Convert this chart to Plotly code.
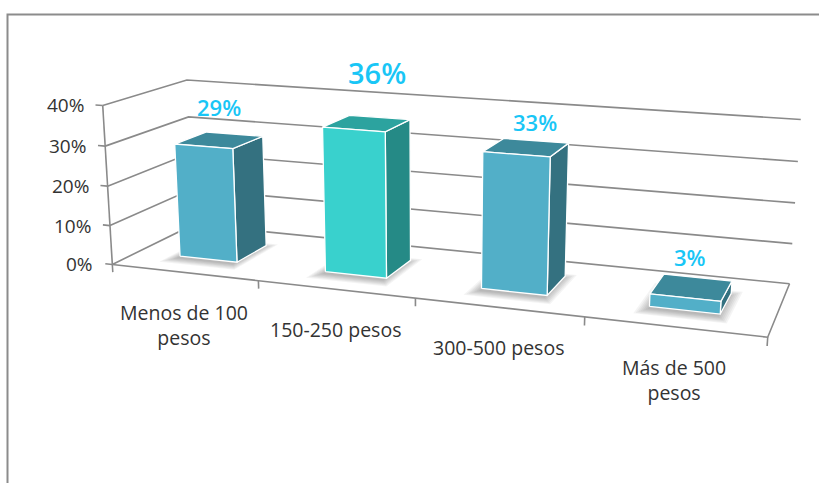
import numpy as np
import plotly.graph_objects as go

# ---- data -------------------------------------------------------------
categories = ["Menos de 100<br>pesos", "150-250 pesos", "300-500 pesos", "Más de 500<br>pesos"]
values = [29, 36, 33, 3]
value_labels = ["29%", "36%", "33%", "3%"]
tick_values = [0, 10, 20, 30, 40]
tick_labels = ["0%", "10%", "20%", "30%", "40%"]

# ---- styling ----------------------------------------------------------
front_colors = ["#52AFC8", "#39D1CD", "#52AFC8", "#52AFC8"]
side_colors = ["#347180", "#258A86", "#347180", "#347180"]
top_colors = ["#3D899B", "#2CA39F", "#3D899B", "#3D899B"]
label_sizes = [22, 29, 22, 22]
label_offsets = [(0, -33), (10, -51), (9, -25), (-2, -30)]
grid_color = "#8a8a8a"
text_color = "#333333"
label_color = "#19C6F6"
font_family = "Open Sans"

BAR_WIDTH = 0.4          # fraction of a category slot
BAR_DEPTH = (0.3, 0.7)   # depth span of the bars inside the floor
ZMAX = 40

# Perspective camera: world (category, depth, value/10) -> screen pixels.
# Anchor correspondences for the wall/floor corners of the 3-D frame.
anchors = [
    ((0, 0, 4), (102, 105)), ((0, 0, 3), (106, 146)), ((0, 0, 2), (108, 186)),
    ((0, 0, 1), (110, 224)), ((0, 0, 0), (112, 263)),
    ((0, 1, 4), (187, 81)), ((0, 1, 3), (188, 118)),
    ((4, 1, 4), (801, 119)), ((4, 1, 3), (798, 161)), ((4, 1, 2), (795, 203)),
    ((4, 1, 1), (792, 243)), ((4, 1, 0), (790, 283)),
    ((4, 0, 0), (766, 337)), ((1, 0, 0), (258, 281)), ((2, 0, 0), (416, 300)),
    ((3, 0, 0), (586, 319)),
]


def fit_camera(pairs):
    W = np.array([p[0] for p in pairs], float)
    S = np.array([p[1] for p in pairs], float)
    wm = W.mean(0)
    ws = np.sqrt(((W - wm) ** 2).sum(1).mean() / 3)
    sm = S.mean(0)
    ss = np.sqrt(((S - sm) ** 2).sum(1).mean() / 2)
    Tw = np.diag([1 / ws] * 3 + [1.0])
    Tw[:3, 3] = -wm / ws
    Ts = np.diag([1 / ss] * 2 + [1.0])
    Ts[:2, 2] = -sm / ss
    Wn = (Tw @ np.c_[W, np.ones(len(W))].T).T
    Sn = (Ts @ np.c_[S, np.ones(len(S))].T).T
    rows = []
    for (x, y, z, _), (u, v, _) in zip(Wn, Sn):
        rows.append([x, y, z, 1, 0, 0, 0, 0, -u * x, -u * y, -u * z, -u])
        rows.append([0, 0, 0, 0, x, y, z, 1, -v * x, -v * y, -v * z, -v])
    _, _, vt = np.linalg.svd(np.array(rows))
    Pn = vt[-1].reshape(3, 4)
    return np.linalg.inv(Ts) @ Pn @ Tw


P = fit_camera(anchors)


def project(x, y, value):
    h = P @ np.array([x, y, value / 10.0, 1.0])
    return h[0] / h[2], h[1] / h[2]


def poly(points):
    xs, ys = zip(*[project(*p) for p in points])
    return list(xs) + [xs[0]], list(ys) + [ys[0]]


fig = go.Figure()


def add_line(points, color=grid_color, width=1.6):
    xs, ys = zip(*[project(*p) for p in points])
    fig.add_trace(go.Scatter(x=xs, y=ys, mode="lines",
                             line=dict(color=color, width=width),
                             hoverinfo="skip"))


def add_face(points, fill, line_color="white", line_width=1.3):
    xs, ys = poly(points)
    fig.add_trace(go.Scatter(x=xs, y=ys, mode="lines", fill="toself",
                             fillcolor=fill,
                             line=dict(color=line_color, width=line_width),
                             hoverinfo="skip"))


n = len(categories)

# walls: gridlines on the side wall and the back wall
for t in tick_values:
    add_line([(0, 0, t), (0, 1, t), (n, 1, t)])

# floor outline and the value axis
add_line([(0, 0, 0), (n, 0, 0), (n, 1, 0)])
add_line([(0, 0, 0), (0, 0, ZMAX)])

# tick marks
for t in tick_values:
    add_line([(-0.05, 0, t), (0, 0, t)])
for k in range(n + 1):
    add_line([(k, 0, 0), (k, 0, -2)])

# soft shadows under the bars
for i, v in enumerate(values):
    c = i + 0.5
    for e in np.linspace(0.10, 0.0, 7):
        x0, x1 = c - BAR_WIDTH / 2 - e * 0.6, c + BAR_WIDTH / 2 + e * 0.6
        y0, y1 = BAR_DEPTH[0] - 0.05 - e, BAR_DEPTH[1] - 0.05 + e
        add_face([(x0, y0, 0), (x1, y0, 0), (x1, y1, 0), (x0, y1, 0)],
                 "rgba(0,0,0,0.045)", line_color="rgba(0,0,0,0)", line_width=0)

# bars
for i, v in enumerate(values):
    c = i + 0.5
    x0, x1 = c - BAR_WIDTH / 2, c + BAR_WIDTH / 2
    y0, y1 = BAR_DEPTH
    add_face([(x1, y0, 0), (x1, y1, 0), (x1, y1, v), (x1, y0, v)], side_colors[i])
    add_face([(x0, y0, v), (x1, y0, v), (x1, y1, v), (x0, y1, v)], top_colors[i])
    add_face([(x0, y0, 0), (x1, y0, 0), (x1, y0, v), (x0, y0, v)], front_colors[i])

annotations = []

# value labels above each bar
for i, v in enumerate(values):
    ux, uy = project(i + 0.5, sum(BAR_DEPTH) / 2, v)
    dx, dy = label_offsets[i]
    annotations.append(dict(x=ux + dx, y=uy + dy, text=value_labels[i],
                            showarrow=False, xanchor="center", yanchor="middle",
                            font=dict(family=font_family, size=label_sizes[i],
                                      color=label_color, weight=600)))

# value axis labels
for t, lab in zip(tick_values, tick_labels):
    ux, uy = project(0, 0, t)
    annotations.append(dict(x=ux - 17, y=uy, text=lab, showarrow=False,
                            xanchor="right", yanchor="middle",
                            font=dict(family=font_family, size=19, color=text_color)))

# category labels below the floor
for i, cat in enumerate(categories):
    ux, uy = project(i + 0.5, 0, 0)
    annotations.append(dict(x=ux, y=uy + 25, text=cat, showarrow=False,
                            xanchor="center", yanchor="top", align="center",
                            font=dict(family=font_family, size=19.5, color=text_color)))

fig.update_layout(
    width=819, height=483,
    margin=dict(l=0, r=0, t=0, b=0),
    paper_bgcolor="white", plot_bgcolor="white",
    showlegend=False,
    xaxis=dict(range=[0, 819], visible=False, fixedrange=True),
    yaxis=dict(range=[483, 0], visible=False, fixedrange=True),
    annotations=annotations,
    shapes=[dict(type="rect", xref="x", yref="y", x0=7.5, y0=14.5, x1=900, y1=600,
                 line=dict(color="#8c8c8c", width=2), layer="below")],
)

fig.write_html("out.html")
